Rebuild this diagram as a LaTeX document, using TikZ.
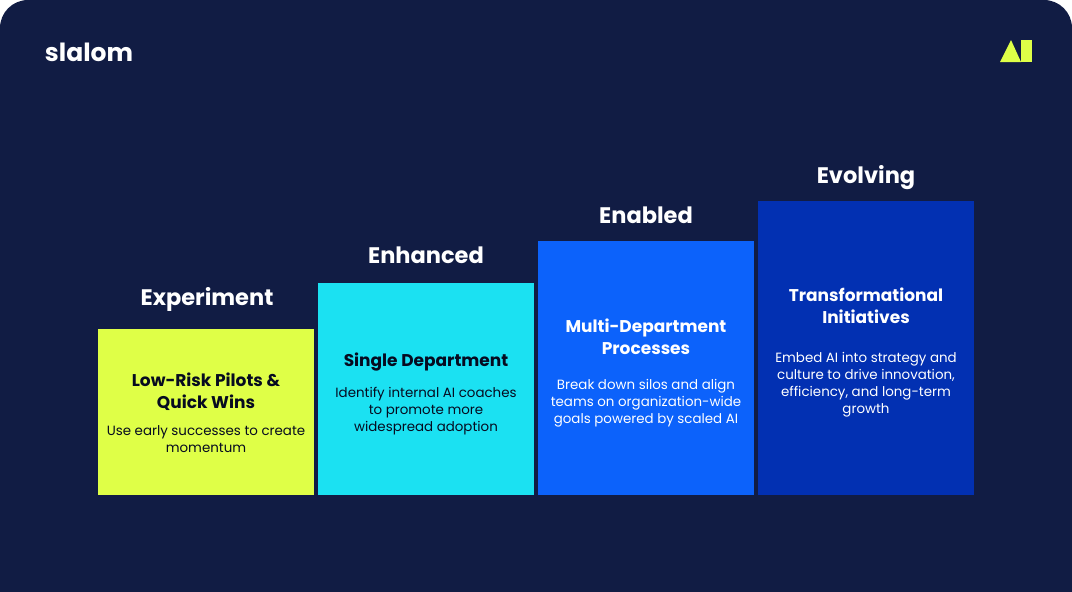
\documentclass[tikz,border=0pt]{standalone}
\usepackage{fontspec}
\setmainfont{Poppins}
\definecolor{pagebg}{HTML}{111C44}
\definecolor{limebox}{HTML}{DFFF47}
\definecolor{cyanbox}{HTML}{1BE1F2}
\definecolor{bluebox}{HTML}{0C62FB}
\definecolor{navybox}{HTML}{0230B2}
\definecolor{inkdark}{HTML}{060B20}
\tikzset{
  stepbox/.style={anchor=north west,inner sep=0pt,minimum width=216pt},
  steptitle/.style={text=white,text height=17pt,text depth=5pt,font=\fontsize{22.5}{27}\selectfont\bfseries},
  stephead/.style={align=center,font=\fontsize{17}{22}\selectfont\bfseries},
  stepbody/.style={align=center,font=\fontsize{13.4}{17}\selectfont}
}
\begin{document}
\begin{tikzpicture}[x=1pt,y=-1pt]
\useasboundingbox (0,0) rectangle (1072,592);
%page with the two upper corners rounded
\fill[white] (0,0) rectangle (1072,592);
\fill[pagebg,rounded corners=28pt] (0,620)--(0,0)--(1072,0)--(1072,620)--cycle;
%logo and icon
\node[text=white,font=\fontsize{25}{25}\selectfont\bfseries,inner sep=0pt] (logo) at (89,52) {slalom};
\fill[limebox] (1000,62)--(1011,40)--(1021,62)--cycle;
\fill[limebox] (1021,40) rectangle (1032,62);
%steps, each one a box from its top edge down to the base
\node[stepbox,fill=limebox,minimum height=166pt] (boxa) at (98,329) {};
\node[stepbox,fill=cyanbox,minimum height=212pt] (boxb) at (318,283) {};
\node[stepbox,fill=bluebox,minimum height=254pt] (boxc) at (538,241) {};
\node[stepbox,fill=navybox,minimum height=294pt] (boxd) at (758,201) {};
%titles
\node[steptitle] (titlea) at (207,299) {Experiment};
\node[steptitle] (titleb) at (426,257) {Enhanced};
\node[steptitle] (titlec) at (646,217) {Enabled};
\node[steptitle] (titled) at (866,177) {Evolving};
%box texts
\node[stephead,text=inkdark] (heada) at (206,392) {Low-Risk Pilots \&\\Quick Wins};
\node[stepbody,text=inkdark] (bodya) at (206,439.5) {Use early successes to create\\momentum};
\node[stephead,text=inkdark] (headb) at (426,362) {Single Department};
\node[stepbody,text=inkdark] (bodyb) at (426,411) {Identify internal AI coaches\\to promote more\\widespread adoption};
\node[stephead,text=white] (headc) at (646,337) {Multi-Department\\Processes};
\node[stepbody,text=white] (bodyc) at (646,403) {Break down silos and align\\teams on organization-wide\\goals powered by scaled AI};
\node[stephead,text=white] (headd) at (866,306) {Transformational\\Initiatives};
\node[stepbody,text=white] (bodyd) at (866,384.5) {Embed AI into strategy and\\culture to drive innovation,\\efficiency, and long-term\\growth};
\end{tikzpicture}
\end{document}
